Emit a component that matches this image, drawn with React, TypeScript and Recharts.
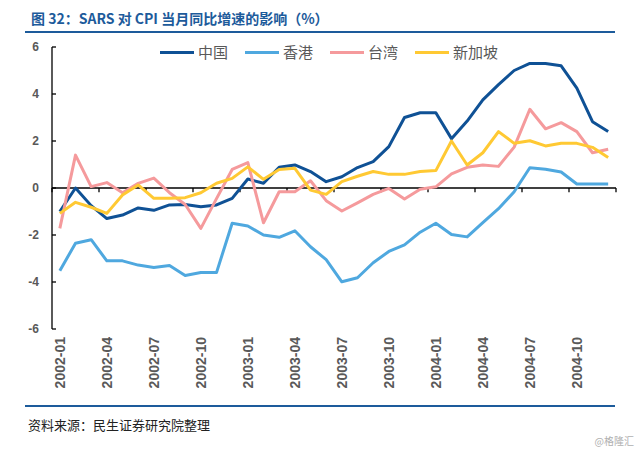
import React from 'react';
import { LineChart, Line, XAxis, YAxis, ReferenceLine } from 'recharts';

// SARS impact on monthly CPI yoy — four economies, 2002-01 .. 2004-12.
const MONTHS = [
  '2002-01', '2002-02', '2002-03', '2002-04', '2002-05', '2002-06',
  '2002-07', '2002-08', '2002-09', '2002-10', '2002-11', '2002-12',
  '2003-01', '2003-02', '2003-03', '2003-04', '2003-05', '2003-06',
  '2003-07', '2003-08', '2003-09', '2003-10', '2003-11', '2003-12',
  '2004-01', '2004-02', '2004-03', '2004-04', '2004-05', '2004-06',
  '2004-07', '2004-08', '2004-09', '2004-10', '2004-11', '2004-12',
];

const CHINA = [
  -1.0, 0.0, -0.75, -1.3, -1.15, -0.85, -0.95, -0.72, -0.7, -0.8, -0.72, -0.44,
  0.38, 0.2, 0.88, 0.98, 0.7, 0.27, 0.48, 0.87, 1.12, 1.76, 3.0, 3.2,
  3.2, 2.1, 2.85, 3.75, 4.4, 5.0, 5.3, 5.3, 5.2, 4.25, 2.82, 2.4,
];
const HONGKONG = [
  -3.52, -2.35, -2.2, -3.1, -3.1, -3.28, -3.38, -3.3, -3.72, -3.6, -3.6, -1.5,
  -1.62, -2.0, -2.1, -1.82, -2.5, -3.05, -3.99, -3.82, -3.18, -2.7, -2.42, -1.88,
  -1.5, -1.98, -2.08, -1.47, -0.88, -0.16, 0.86, 0.8, 0.68, 0.17, 0.17, 0.17,
];
const TAIWAN = [
  -1.72, 1.4, 0.06, 0.23, -0.2, 0.2, 0.42, -0.2, -0.7, -1.72, -0.45, 0.79,
  1.08, -1.48, -0.16, -0.16, 0.31, -0.54, -0.98, -0.63, -0.27, -0.02, -0.47, -0.05,
  0.05, 0.6, 0.88, 0.98, 0.92, 1.74, 3.35, 2.52, 2.78, 2.4, 1.5, 1.65,
];
const SINGAPORE = [
  -1.08, -0.61, -0.82, -1.08, -0.3, 0.13, -0.44, -0.44, -0.41, -0.2, 0.2, 0.41,
  0.9, 0.37, 0.79, 0.84, -0.09, -0.27, 0.27, 0.5, 0.7, 0.58, 0.58, 0.7,
  0.74, 2.0, 0.98, 1.5, 2.4, 1.9, 2.01, 1.79, 1.9, 1.9, 1.73, 1.3,
];

const Y_TICKS = [-6, -4, -2, 0, 2, 4, 6];
const LABEL_STEP = 3;

const TITLE = '图 32：SARS 对 CPI 当月同比增速的影响（%）';
const SOURCE = '资料来源：民生证券研究院整理';

const BLUE_RULE = '#1D5B9B';
const AXIS_TEXT = '#595959';
const LATIN = 'Arial, "Liberation Sans", sans-serif';
const CJK = '"Noto Sans CJK SC", sans-serif';

const SERIES = [
  { key: 'cn', name: '中国', color: '#0F5195', values: CHINA },
  { key: 'hk', name: '香港', color: '#4FA8DF', values: HONGKONG },
  { key: 'tw', name: '台湾', color: '#F59A9C', values: TAIWAN },
  { key: 'sg', name: '新加坡', color: '#FFC933', values: SINGAPORE },
];

// numeric x so categories sit mid-band, like the Excel original
const rows = MONTHS.map((m, i) => {
  const r: Record<string, number | string> = { idx: i + 0.5, month: m };
  SERIES.forEach((s) => { r[s.key] = s.values[i]; });
  return r;
});
const labelTicks = MONTHS.map((_, i) => i).filter((i) => i % LABEL_STEP === 0).map((i) => i + 0.5);
const tickMarks = MONTHS.map((_, i) => i).filter((i) => i % LABEL_STEP === 0).concat(MONTHS.length);

function MonthTick({ x, y, payload }: any) {
  return (
    <text
      x={x}
      y={y}
      transform={`rotate(-90 ${x} ${y})`}
      textAnchor="end"
      dominantBaseline="central"
      fontSize={14}
      fontWeight="bold"
      fontFamily={LATIN}
      fill={AXIS_TEXT}
    >
      {MONTHS[Math.floor(payload.value)]}
    </text>
  );
}

export default function App() {
  return (
    <div style={{ position: 'absolute', left: 0, top: 0, width: 640, height: 449, background: '#fff', overflow: 'hidden' }}>
      <div style={{ position: 'absolute', left: 31, top: 8, fontFamily: CJK, fontSize: 14, fontWeight: 'bold', color: BLUE_RULE, lineHeight: '20px', whiteSpace: 'nowrap' }}>
        {TITLE}
      </div>
      <div style={{ position: 'absolute', left: 25, top: 31, width: 590, height: 2, background: BLUE_RULE }} />

      <LineChart width={640} height={400} data={rows} margin={{ top: 47, right: 24, left: 0, bottom: 0 }}>
        <XAxis
          type="number"
          dataKey="idx"
          domain={[0, MONTHS.length]}
          ticks={labelTicks}
          tick={<MonthTick />}
          tickLine={false}
          axisLine={false}
          tickSize={0}
          tickMargin={8}
          height={71}
          interval={0}
        />
        <YAxis
          domain={[-6, 6]}
          ticks={Y_TICKS}
          width={52}
          axisLine={{ stroke: '#000', strokeWidth: 1.3 }}
          tickLine={{ stroke: '#000', strokeWidth: 1.3 }}
          tickSize={-4}
          tickMargin={17}
          tick={{ fontSize: 12, fontWeight: 'bold', fill: AXIS_TEXT, fontFamily: LATIN }}
          interval={0}
        />
        <ReferenceLine y={0} stroke="#000" strokeWidth={1.3} />
        {tickMarks.map((t) => (
          <ReferenceLine key={t} segment={[{ x: t, y: 0 }, { x: t, y: -0.18 }]} stroke="#000" strokeWidth={1.3} />
        ))}
        {SERIES.map((s) => (
          <Line
            key={s.key}
            dataKey={s.key}
            name={s.name}
            stroke={s.color}
            strokeWidth={3}
            dot={false}
            activeDot={false}
            type="linear"
            strokeLinejoin="round"
            isAnimationActive={false}
          />
        ))}
      </LineChart>

      <div style={{ position: 'absolute', left: 160, top: 42, display: 'flex', alignItems: 'center', fontFamily: CJK, fontSize: 15, color: AXIS_TEXT }}>
        {SERIES.map((s) => (
          <div key={s.key} style={{ display: 'flex', alignItems: 'center', marginRight: 17 }}>
            <span style={{ display: 'inline-block', width: 34, height: 3, background: s.color, marginRight: 4 }} />
            <span style={{ lineHeight: '20px' }}>{s.name}</span>
          </div>
        ))}
      </div>

      <div style={{ position: 'absolute', left: 25, top: 405, width: 590, height: 2, background: BLUE_RULE }} />
      <div style={{ position: 'absolute', left: 28, top: 415, fontFamily: CJK, fontSize: 13, color: '#222', lineHeight: '20px' }}>
        {SOURCE}
      </div>
      <div style={{ position: 'absolute', right: 6, top: 433, fontFamily: CJK, fontSize: 10, color: '#b0b0b0' }}>
        @格隆汇
      </div>
    </div>
  );
}
